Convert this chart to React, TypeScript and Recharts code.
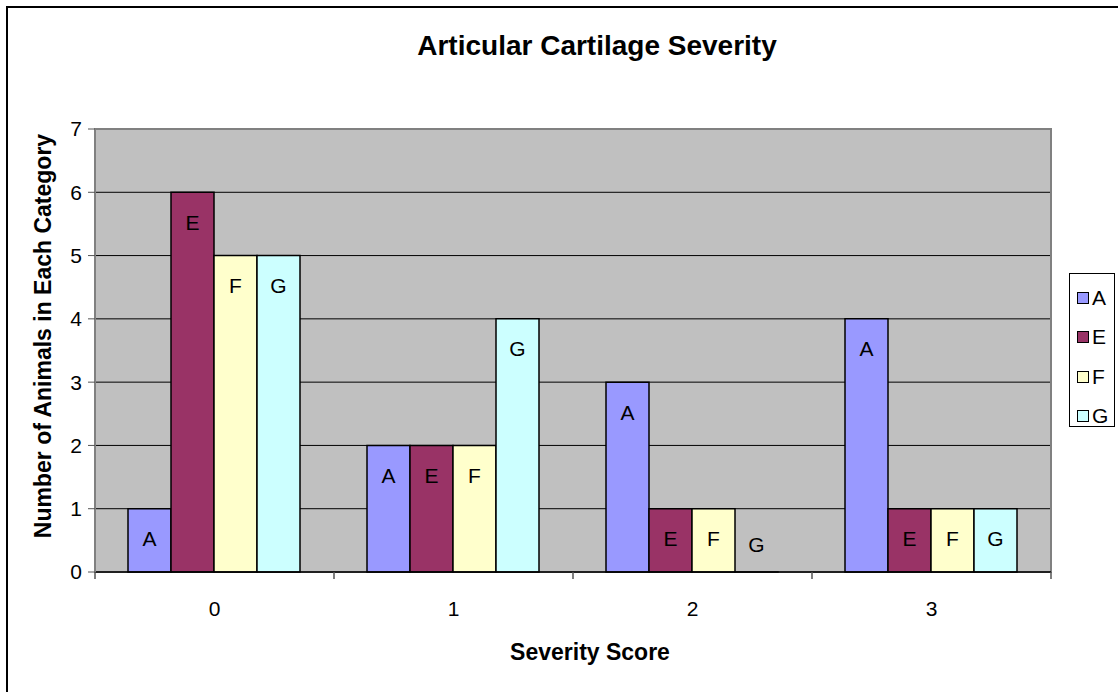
import { BarChart, Bar, XAxis, YAxis, CartesianGrid, Legend, LabelList, ReferenceArea } from "recharts";

const categories = ["0", "1", "2", "3"];
const seriesNames = ["A", "E", "F", "G"];
const seriesA = [1, 2, 3, 4];
const seriesE = [6, 2, 1, 1];
const seriesF = [5, 2, 1, 1];
const seriesG = [5, 4, 0, 1];
const yTicks = [0, 1, 2, 3, 4, 5, 6, 7];
const colors: Record<string, string> = { A: "#9999FF", E: "#993366", F: "#FFFFCC", G: "#CCFFFF" };

const data = categories.map((c, i) => ({
  score: c,
  A: seriesA[i],
  E: seriesE[i],
  F: seriesF[i],
  G: seriesG[i],
}));

const FONT = '"Liberation Sans", Arial, sans-serif';

function XTick(props: any) {
  const { x, y, payload, index } = props;
  const half = payload.offset ?? 0;
  const last = index === categories.length - 1;
  return (
    <g>
      <line x1={x - half} y1={y} x2={x - half} y2={y + 7} stroke="#555" strokeWidth={1.5} />
      {last && <line x1={x + half} y1={y} x2={x + half} y2={y + 7} stroke="#555" strokeWidth={1.5} />}
      <text x={x} y={y + 44} textAnchor="middle" fontSize={21} fontFamily={FONT} fill="#000">
        {payload.value}
      </text>
    </g>
  );
}

// series name inside the top of each bar; a zero bar keeps its name just above the axis
const seriesLabel = (name: string) => (props: any) => {
  const { x, y, width, height, value } = props;
  const cy = Number(value) === 0 ? y + height - 28 : y + 30;
  return (
    <text x={x + width / 2} y={cy} dy="0.36em" textAnchor="middle" fontSize={21} fontFamily={FONT} fill="#000">
      {name}
    </text>
  );
};

function LegendBox(props: any) {
  const items = props.payload || [];
  return (
    <div style={{ border: "1px solid #000", background: "#fff", width: 46, height: 154, boxSizing: "border-box", paddingTop: 4 }}>
      {items.map((it: any) => (
        <div key={it.value} style={{ display: "flex", alignItems: "center", height: 39.5, fontFamily: FONT, fontSize: 21 }}>
          <span style={{ display: "inline-block", width: 10, height: 10, border: "1px solid #000", background: it.color, marginLeft: 7, marginRight: 3 }} />
          <span>{it.value}</span>
        </div>
      ))}
    </div>
  );
}

export default function App() {
  return (
    <div style={{ position: "fixed", left: 0, top: 0, width: 1118, height: 692, overflow: "hidden", background: "#fff" }}>
      <div style={{ position: "absolute", left: 6, top: 6, width: 1200, height: 800, borderLeft: "2px solid #000", borderTop: "2px solid #000" }} />
      <div style={{ position: "absolute", left: 0, top: 32, width: 1194, textAlign: "center", fontFamily: FONT, fontWeight: "bold", fontSize: 28, lineHeight: "28px" }}>
        Articular Cartilage Severity
      </div>
      <div style={{ position: "absolute", left: 0, top: 0 }}>
        <BarChart width={1118} height={692} data={data} margin={{ top: 129, right: 67, bottom: 0, left: 0 }} barCategoryGap={33} barGap={0}>
          <CartesianGrid vertical={false} stroke="#000" fill="#C0C0C0" fillOpacity={1} />
          <ReferenceArea y1={0} y2={7} fill="none" stroke="#808080" strokeWidth={2} ifOverflow="visible" />
          <XAxis
            dataKey="score"
            height={120}
            tickLine={false}
            tickSize={0}
            tickMargin={0}
            axisLine={{ stroke: "#000", strokeWidth: 1.5 }}
            tick={<XTick />}
            interval={0}
            label={{
              content: () => (
                <text x={590} y={660} textAnchor="middle" fontSize={23} fontWeight="bold" fontFamily={FONT} fill="#000">
                  Severity Score
                </text>
              ),
            }}
          />
          <YAxis
            width={95}
            domain={[0, 7]}
            ticks={yTicks}
            interval={0}
            tickSize={7}
            tickMargin={6}
            axisLine={{ stroke: "#808080", strokeWidth: 2 }}
            tickLine={{ stroke: "#555" }}
            tick={{ fontSize: 21, fontFamily: FONT, fill: "#000" }}
            label={{
              content: () => (
                <text x={51} y={336} transform="rotate(-90, 51, 336)" textAnchor="middle" fontSize={23} fontWeight="bold" fontFamily={FONT} fill="#000">
                  Number of Animals in Each Category
                </text>
              ),
            }}
          />
          <Legend
            layout="vertical"
            align="center"
            verticalAlign="middle"
            content={<LegendBox />}
            wrapperStyle={{ left: 1069, top: 273, width: 48, height: 156 }}
          />
          {seriesNames.map((s) => (
            <Bar
              key={s}
              dataKey={s}
              fill={colors[s]}
              stroke="#000"
              strokeWidth={1.5}
              minPointSize={(v: number) => (v === 0 ? 0.01 : 0)}
              isAnimationActive={false}
            >
              <LabelList dataKey={s} content={seriesLabel(s)} />
            </Bar>
          ))}
        </BarChart>
      </div>
    </div>
  );
}
